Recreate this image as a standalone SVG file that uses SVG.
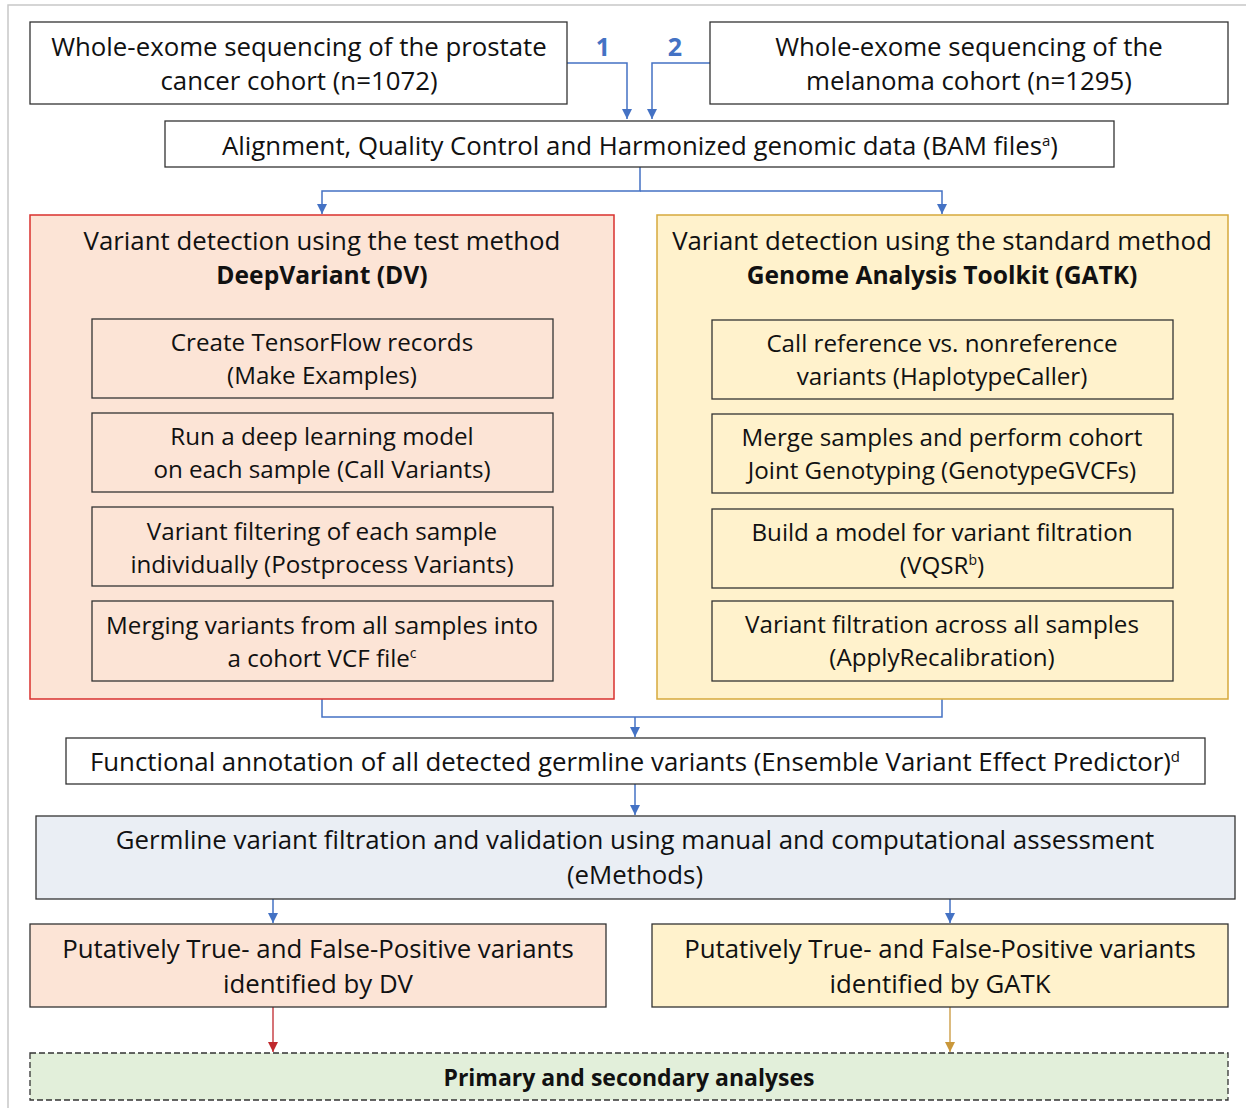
<svg xmlns="http://www.w3.org/2000/svg" width="1246" height="1108" viewBox="0 0 1246 1108">
<defs>
<marker id="ab" viewBox="0 0 10 10" refX="10" refY="5" markerWidth="10" markerHeight="10" markerUnits="userSpaceOnUse" orient="auto"><path d="M0,0 L10,5 L0,10 z" fill="#4472C4"/></marker>
<marker id="ar" viewBox="0 0 10 10" refX="10" refY="5" markerWidth="10" markerHeight="10" markerUnits="userSpaceOnUse" orient="auto"><path d="M0,0 L10,5 L0,10 z" fill="#C0282D"/></marker>
<marker id="ag" viewBox="0 0 10 10" refX="10" refY="5" markerWidth="10" markerHeight="10" markerUnits="userSpaceOnUse" orient="auto"><path d="M0,0 L10,5 L0,10 z" fill="#C9973A"/></marker>
<style>
text{font-family:"Open Sans","Liberation Sans",sans-serif;font-size:25.8px;fill:#111;text-anchor:middle}
.b{font-weight:bold;font-size:24.6px}
.s{font-size:24.2px}
.box{fill:#fff;stroke:#333;stroke-width:1.3}
.inr{fill:#FCE4D6;stroke:#333;stroke-width:1.3}
.iny{fill:#FFF2CC;stroke:#333;stroke-width:1.3}
.c{fill:none;stroke:#4472C4;stroke-width:1.5}
.num{fill:#4472C4;font-weight:bold;font-size:25px}
</style>
</defs>
<rect x="0" y="0" width="1246" height="1108" fill="#fff"/>
<path d="M8,1108 V5 H1246" fill="none" stroke="#c8c8c8" stroke-width="1.5"/>

<g id="connectors">
<path class="c" d="M567,63 H627 V119" marker-end="url(#ab)"/>
<path class="c" d="M710,63 H652 V119" marker-end="url(#ab)"/>
<path class="c" d="M640,167 V191 H322 V214" marker-end="url(#ab)"/>
<path class="c" d="M640,191 H942 V214" marker-end="url(#ab)"/>
<path class="c" d="M322,699 V717 H942 V699"/>
<path class="c" d="M635,717 V737" marker-end="url(#ab)"/>
<path class="c" d="M635,784 V815" marker-end="url(#ab)"/>
<path class="c" d="M273,899 V923" marker-end="url(#ab)"/>
<path class="c" d="M950,899 V923" marker-end="url(#ab)"/>
<path d="M273,1007 V1052" fill="none" stroke="#C0282D" stroke-width="1.3" marker-end="url(#ar)"/>
<path d="M950,1007 V1052" fill="none" stroke="#C9973A" stroke-width="1.3" marker-end="url(#ag)"/>
<text class="num" x="603" y="56">1</text>
<text class="num" x="675" y="56">2</text>
</g>

<g id="prostate">
<rect class="box" x="30" y="22" width="537" height="82"/>
<text x="299" y="56">Whole-exome sequencing of the prostate</text>
<text x="299" y="90">cancer cohort (n=1072)</text>
</g>
<g id="melanoma">
<rect class="box" x="710" y="22" width="518" height="82"/>
<text x="969" y="56">Whole-exome sequencing of the</text>
<text x="969" y="90">melanoma cohort (n=1295)</text>
</g>
<g id="alignment">
<rect class="box" x="165" y="121" width="949" height="46"/>
<text x="640" y="155">Alignment, Quality Control and Harmonized genomic data (BAM files<tspan dy="-9" font-size="15">a</tspan><tspan dy="9">)</tspan></text>
</g>

<g id="dv-panel">
<rect x="30" y="215" width="584" height="484" fill="#FCE4D6" stroke="#D9302E" stroke-width="1.5"/>
<text x="322" y="250">Variant detection using the test method</text>
<text class="b" x="322" y="284">DeepVariant (DV)</text>
</g>
<g id="dv1"><rect class="inr" x="92" y="319" width="461" height="79"/>
<text class="s" x="322" y="351">Create TensorFlow records</text><text class="s" x="322" y="384">(Make Examples)</text></g>
<g id="dv2"><rect class="inr" x="92" y="413" width="461" height="79"/>
<text class="s" x="322" y="445">Run a deep learning model</text><text class="s" x="322" y="478">on each sample (Call Variants)</text></g>
<g id="dv3"><rect class="inr" x="92" y="507" width="461" height="79"/>
<text class="s" x="322" y="540">Variant filtering of each sample</text><text class="s" x="322" y="573">individually (Postprocess Variants)</text></g>
<g id="dv4"><rect class="inr" x="92" y="601" width="461" height="80"/>
<text class="s" x="322" y="634">Merging variants from all samples into</text><text class="s" x="322" y="667">a cohort VCF file<tspan dy="-9" font-size="14">c</tspan></text></g>

<g id="gatk-panel">
<rect x="657" y="215" width="571" height="484" fill="#FFF2CC" stroke="#D6A93C" stroke-width="1.5"/>
<text x="942" y="250">Variant detection using the standard method</text>
<text class="b" x="942" y="284">Genome Analysis Toolkit (GATK)</text>
</g>
<g id="g1"><rect class="iny" x="712" y="320" width="461" height="79"/>
<text class="s" x="942" y="352">Call reference vs. nonreference</text><text class="s" x="942" y="385">variants (HaplotypeCaller)</text></g>
<g id="g2"><rect class="iny" x="712" y="414" width="461" height="79"/>
<text class="s" x="942" y="446">Merge samples and perform cohort</text><text class="s" x="942" y="479">Joint Genotyping (GenotypeGVCFs)</text></g>
<g id="g3"><rect class="iny" x="712" y="509" width="461" height="79"/>
<text class="s" x="942" y="541">Build a model for variant filtration</text><text class="s" x="942" y="574">(VQSR<tspan dy="-9" font-size="14">b</tspan><tspan dy="9">)</tspan></text></g>
<g id="g4"><rect class="iny" x="712" y="601" width="461" height="80"/>
<text class="s" x="942" y="633">Variant filtration across all samples</text><text class="s" x="942" y="666">(ApplyRecalibration)</text></g>

<g id="annotation">
<rect class="box" x="66" y="738" width="1139" height="46"/>
<text x="635" y="771">Functional annotation of all detected germline variants (Ensemble Variant Effect Predictor)<tspan dy="-9" font-size="15">d</tspan></text>
</g>
<g id="filtration">
<rect x="36" y="816" width="1199" height="83" fill="#EAEEF4" stroke="#333" stroke-width="1.3"/>
<text x="635" y="849">Germline variant filtration and validation using manual and computational assessment</text>
<text x="635" y="884">(eMethods)</text>
</g>
<g id="dv-result">
<rect class="inr" x="30" y="924" width="576" height="83"/>
<text x="318" y="958">Putatively True- and False-Positive variants</text>
<text x="318" y="993">identified by DV</text>
</g>
<g id="gatk-result">
<rect class="iny" x="652" y="924" width="576" height="83"/>
<text x="940" y="958">Putatively True- and False-Positive variants</text>
<text x="940" y="993">identified by GATK</text>
</g>
<g id="analyses">
<rect x="30" y="1053" width="1198" height="47" fill="#E2EFDA" stroke="#333" stroke-width="1.3" stroke-dasharray="6,3"/>
<text class="b" x="629" y="1086" style="font-size:23px">Primary and secondary analyses</text>
</g>
</svg>
